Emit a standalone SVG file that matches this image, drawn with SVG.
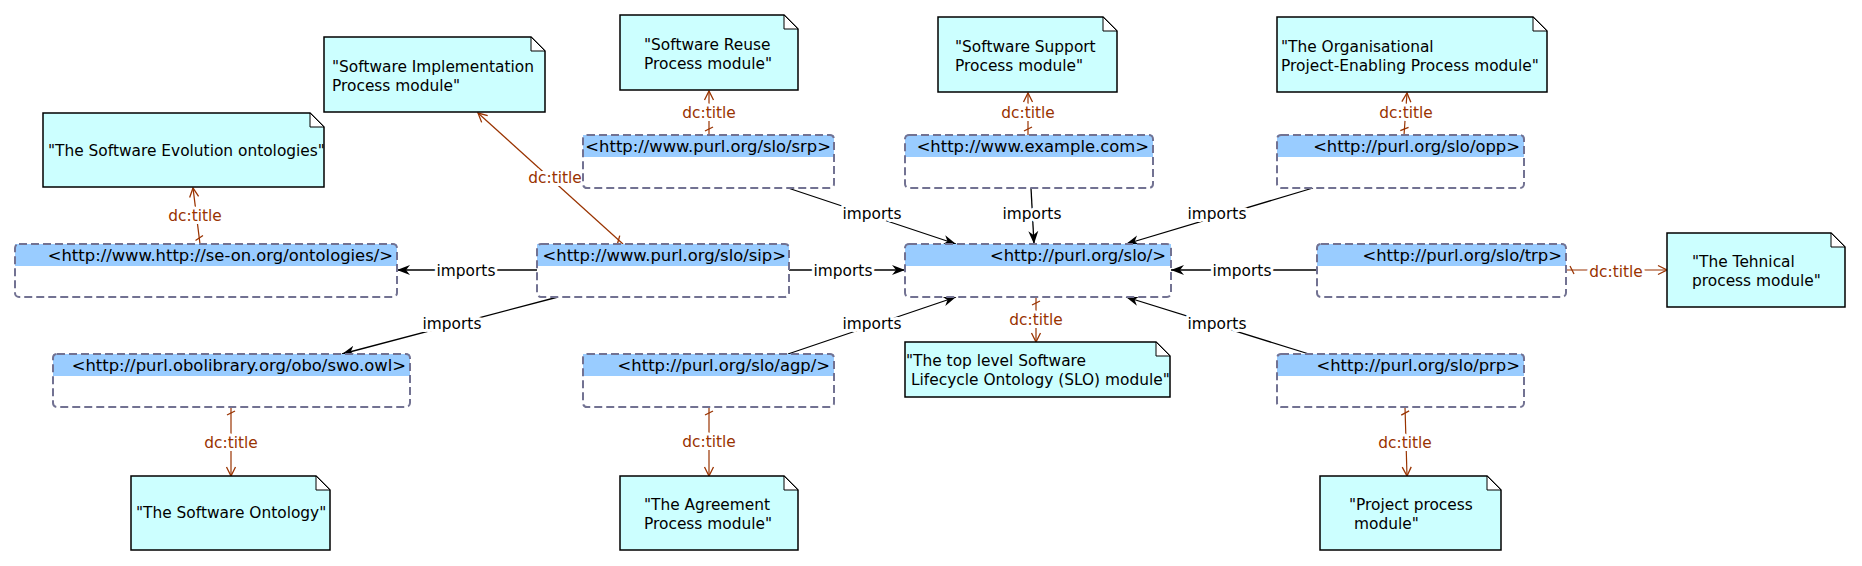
<svg xmlns="http://www.w3.org/2000/svg" width="1862" height="566" viewBox="0 0 1862 566">
<style>
text{font-family:"DejaVu Sans","Liberation Sans",sans-serif;}
.body{fill:#fff;stroke:none;}
.hdr{fill:#99ccff;stroke:none;}
.frame{fill:none;stroke:#727292;stroke-width:2;stroke-dasharray:8 4;}
.ht{font-size:16.4px;fill:#000;text-anchor:end;}
.note{fill:#ccffff;stroke:#000;stroke-width:1.5;}
.fold{fill:#fff;stroke:#000;stroke-width:1;}
.nt{font-size:15.4px;fill:#000;}
.imp{stroke:#000;stroke-width:1.3;fill:none;marker-end:url(#arr);}
.dc{stroke:#993300;stroke-width:1.2;fill:none;marker-end:url(#open);marker-start:url(#tick);}
.lbl{font-size:15.4px;text-anchor:middle;stroke:#fff;stroke-width:6;stroke-linejoin:round;paint-order:stroke;}
.li{fill:#000;}
.ld{fill:#993300;}
</style>
<defs>
<marker id="arr" markerWidth="14" markerHeight="12" refX="13" refY="6" orient="auto" markerUnits="userSpaceOnUse" viewBox="0 0 14 12"><path d="M0,1 L13,6 L0,11 L4,6 z" fill="#000"/></marker>
<marker id="open" markerWidth="12" markerHeight="12" refX="11" refY="6" orient="auto" markerUnits="userSpaceOnUse" viewBox="0 0 12 12"><path d="M2,1.5 L11,6 L2,10.5" fill="none" stroke="#993300" stroke-width="1.3"/></marker>
<marker id="tick" markerWidth="12" markerHeight="12" refX="0" refY="6" orient="auto" markerUnits="userSpaceOnUse" viewBox="0 0 12 12"><path d="M4,2 L8,10" fill="none" stroke="#993300" stroke-width="1.3"/></marker>
</defs>

<g id="connectors">
<line class="imp" x1="537" y1="270" x2="397" y2="270"/>
<line class="imp" x1="789" y1="270" x2="905" y2="270"/>
<line class="imp" x1="558" y1="297" x2="342" y2="354"/>
<line class="imp" x1="788" y1="188" x2="956" y2="244"/>
<line class="imp" x1="1031" y1="188" x2="1034" y2="244"/>
<line class="imp" x1="1313" y1="188" x2="1126" y2="244"/>
<line class="imp" x1="1317" y1="270" x2="1171" y2="270"/>
<line class="imp" x1="788" y1="354" x2="956" y2="297"/>
<line class="imp" x1="1309" y1="354" x2="1126" y2="297"/>

<line class="dc" x1="623" y1="244" x2="478" y2="113"/>
<line class="dc" x1="200" y1="244" x2="193" y2="188"/>
<line class="dc" x1="709" y1="135" x2="709" y2="91"/>
<line class="dc" x1="1028" y1="135" x2="1028" y2="93"/>
<line class="dc" x1="1404" y1="135" x2="1407" y2="93"/>
<line class="dc" x1="1566" y1="270" x2="1667" y2="270"/>
<line class="dc" x1="1036" y1="297" x2="1036" y2="342"/>
<line class="dc" x1="231" y1="407" x2="231" y2="476"/>
<line class="dc" x1="709" y1="407" x2="709" y2="476"/>
<line class="dc" x1="1405" y1="407" x2="1407" y2="476"/>

<text class="lbl li" x="466" y="276">imports</text>
<text class="lbl li" x="843" y="276">imports</text>
<text class="lbl li" x="452" y="329">imports</text>
<text class="lbl li" x="872" y="219">imports</text>
<text class="lbl li" x="1032" y="219">imports</text>
<text class="lbl li" x="1217" y="219">imports</text>
<text class="lbl li" x="1242" y="276">imports</text>
<text class="lbl li" x="872" y="329">imports</text>
<text class="lbl li" x="1217" y="329">imports</text>

<text class="lbl ld" x="555" y="183">dc:title</text>
<text class="lbl ld" x="195" y="221">dc:title</text>
<text class="lbl ld" x="709" y="118">dc:title</text>
<text class="lbl ld" x="1028" y="118">dc:title</text>
<text class="lbl ld" x="1406" y="118">dc:title</text>
<text class="lbl ld" x="1616" y="277">dc:title</text>
<text class="lbl ld" x="1036" y="325">dc:title</text>
<text class="lbl ld" x="231" y="448">dc:title</text>
<text class="lbl ld" x="709" y="447">dc:title</text>
<text class="lbl ld" x="1405" y="448">dc:title</text>
</g>

<g id="box-seon">
<rect class="body" x="15" y="244" width="382" height="53" rx="4"/>
<rect class="hdr" x="15" y="244" width="382" height="22"/>
<rect class="frame" x="15" y="244" width="382" height="53" rx="4"/>
<text class="ht" x="393" y="261">&lt;http://www.http://se-on.org/ontologies/&gt;</text>
</g>
<g id="box-sip">
<rect class="body" x="537" y="244" width="252" height="53" rx="4"/>
<rect class="hdr" x="537" y="244" width="252" height="22"/>
<rect class="frame" x="537" y="244" width="252" height="53" rx="4"/>
<text class="ht" x="786" y="261">&lt;http://www.purl.org/slo/sip&gt;</text>
</g>
<g id="box-srp">
<rect class="body" x="583" y="135" width="251" height="53" rx="4"/>
<rect class="hdr" x="583" y="135" width="251" height="22"/>
<rect class="frame" x="583" y="135" width="251" height="53" rx="4"/>
<text class="ht" x="831" y="152">&lt;http://www.purl.org/slo/srp&gt;</text>
</g>
<g id="box-example">
<rect class="body" x="905" y="135" width="248" height="53" rx="4"/>
<rect class="hdr" x="905" y="135" width="248" height="22"/>
<rect class="frame" x="905" y="135" width="248" height="53" rx="4"/>
<text class="ht" x="1149" y="152">&lt;http://www.example.com&gt;</text>
</g>
<g id="box-slo">
<rect class="body" x="905" y="244" width="266" height="53" rx="4"/>
<rect class="hdr" x="905" y="244" width="266" height="22"/>
<rect class="frame" x="905" y="244" width="266" height="53" rx="4"/>
<text class="ht" x="1166" y="261">&lt;http://purl.org/slo/&gt;</text>
</g>
<g id="box-opp">
<rect class="body" x="1277" y="135" width="247" height="53" rx="4"/>
<rect class="hdr" x="1277" y="135" width="247" height="22"/>
<rect class="frame" x="1277" y="135" width="247" height="53" rx="4"/>
<text class="ht" x="1520" y="152">&lt;http://purl.org/slo/opp&gt;</text>
</g>
<g id="box-trp">
<rect class="body" x="1317" y="244" width="249" height="53" rx="4"/>
<rect class="hdr" x="1317" y="244" width="249" height="22"/>
<rect class="frame" x="1317" y="244" width="249" height="53" rx="4"/>
<text class="ht" x="1562" y="261">&lt;http://purl.org/slo/trp&gt;</text>
</g>
<g id="box-swo">
<rect class="body" x="53" y="354" width="357" height="53" rx="4"/>
<rect class="hdr" x="53" y="354" width="357" height="22"/>
<rect class="frame" x="53" y="354" width="357" height="53" rx="4"/>
<text class="ht" x="406" y="371">&lt;http://purl.obolibrary.org/obo/swo.owl&gt;</text>
</g>
<g id="box-agp">
<rect class="body" x="583" y="354" width="251" height="53" rx="4"/>
<rect class="hdr" x="583" y="354" width="251" height="22"/>
<rect class="frame" x="583" y="354" width="251" height="53" rx="4"/>
<text class="ht" x="830" y="371">&lt;http://purl.org/slo/agp/&gt;</text>
</g>
<g id="box-prp">
<rect class="body" x="1277" y="354" width="247" height="53" rx="4"/>
<rect class="hdr" x="1277" y="354" width="247" height="22"/>
<rect class="frame" x="1277" y="354" width="247" height="53" rx="4"/>
<text class="ht" x="1520" y="371">&lt;http://purl.org/slo/prp&gt;</text>
</g>

<g id="note-sip">
<path class="note" d="M324,37 H531 L545,51 V112 H324 Z"/>
<path class="fold" d="M531,37 V51 H545 Z"/>
<text class="nt" x="332" y="72">"Software Implementation</text>
<text class="nt" x="332" y="91">Process module"</text>
</g>
<g id="note-seon">
<path class="note" d="M43,113 H310 L324,127 V187 H43 Z"/>
<path class="fold" d="M310,113 V127 H324 Z"/>
<text class="nt" x="48" y="156">"The Software Evolution ontologies"</text>
</g>
<g id="note-srp">
<path class="note" d="M620,15 H784 L798,29 V90 H620 Z"/>
<path class="fold" d="M784,15 V29 H798 Z"/>
<text class="nt" x="644" y="50">"Software Reuse</text>
<text class="nt" x="644" y="69">Process module"</text>
</g>
<g id="note-example">
<path class="note" d="M938,17 H1103 L1117,31 V92 H938 Z"/>
<path class="fold" d="M1103,17 V31 H1117 Z"/>
<text class="nt" x="955" y="52">"Software Support</text>
<text class="nt" x="955" y="71">Process module"</text>
</g>
<g id="note-opp">
<path class="note" d="M1277,17 H1533 L1547,31 V92 H1277 Z"/>
<path class="fold" d="M1533,17 V31 H1547 Z"/>
<text class="nt" x="1281" y="52">"The Organisational</text>
<text class="nt" x="1281" y="71">Project-Enabling Process module"</text>
</g>
<g id="note-trp">
<path class="note" d="M1667,233 H1831 L1845,247 V307 H1667 Z"/>
<path class="fold" d="M1831,233 V247 H1845 Z"/>
<text class="nt" x="1692" y="267">"The Tehnical</text>
<text class="nt" x="1692" y="286">process module"</text>
</g>
<g id="note-slo">
<path class="note" d="M905,342 H1156 L1170,356 V397 H905 Z"/>
<path class="fold" d="M1156,342 V356 H1170 Z"/>
<text class="nt" x="906" y="366">"The top level Software</text>
<text class="nt" x="911" y="385">Lifecycle Ontology (SLO) module"</text>
</g>
<g id="note-swo">
<path class="note" d="M131,476 H316 L330,490 V550 H131 Z"/>
<path class="fold" d="M316,476 V490 H330 Z"/>
<text class="nt" x="136" y="518">"The Software Ontology"</text>
</g>
<g id="note-agp">
<path class="note" d="M620,476 H784 L798,490 V550 H620 Z"/>
<path class="fold" d="M784,476 V490 H798 Z"/>
<text class="nt" x="644" y="510">"The Agreement</text>
<text class="nt" x="644" y="529">Process module"</text>
</g>
<g id="note-prp">
<path class="note" d="M1320,476 H1487 L1501,490 V550 H1320 Z"/>
<path class="fold" d="M1487,476 V490 H1501 Z"/>
<text class="nt" x="1349" y="510">"Project process</text>
<text class="nt" x="1354" y="529">module"</text>
</g>
</svg>
